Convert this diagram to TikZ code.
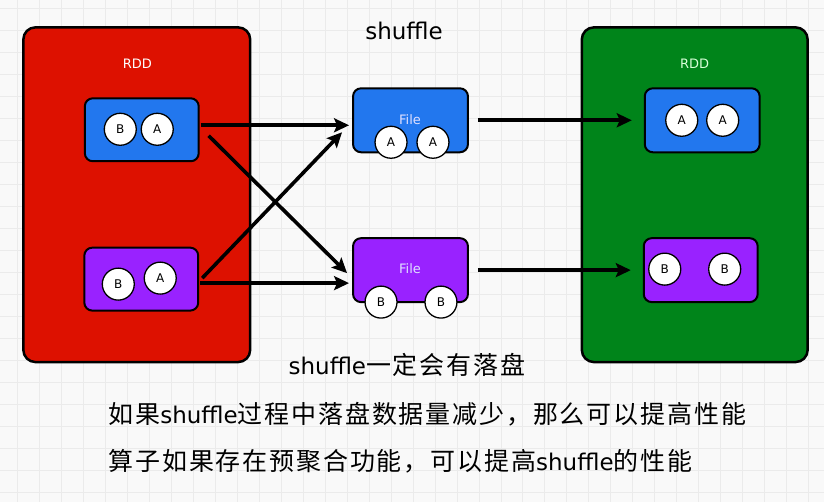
\documentclass[tikz,border=0pt]{standalone}
\usepackage{fontspec}
\setmainfont{DejaVu Sans}
\newfontfamily\cjk[LetterSpace=7.5]{Noto Sans CJK SC}
\usetikzlibrary{arrows.meta}

\definecolor{rddred}{HTML}{DD1100}
\definecolor{rddgreen}{HTML}{00841A}
\definecolor{partblue}{HTML}{2277EE}
\definecolor{partpurple}{HTML}{9922FF}
\definecolor{canvas}{HTML}{F9F9F9}
\definecolor{gridgray}{HTML}{EBEBEB}

\newcommand{\zh}[1]{{\fontsize{25}{30}\cjk #1}}

\begin{document}
\begin{tikzpicture}[
        x=1pt, y=-1pt,
        font=\fontsize{23}{28}\selectfont,
        rddbox/.style={draw=black, line width=2.5pt, rounded corners=12pt, minimum width=227pt, minimum height=335pt, inner sep=0pt},
        part/.style={draw=black, line width=2pt, rounded corners=8pt, minimum width=114pt, minimum height=63pt, inner sep=0pt},
        rec/.style={circle, draw=black, fill=white, line width=1.3pt, minimum size=32pt, inner sep=0pt, font=\fontsize{12}{14}\selectfont},
        tag/.style={text=white, font=\fontsize{13}{15}\selectfont},
        note/.style={anchor=base west, inner sep=0pt},
        link/.style={draw=black, line width=3.6pt, -{Stealth[length=15pt,width=14pt,inset=3pt]}}
    ]
        % background with grid
        \fill[canvas] (0,0) rectangle (824,502);
        \foreach \gx in {17,39,...,823} \draw[gridgray, line width=0.8pt] (\gx,0) -- (\gx,502);
        \foreach \gy in {8,30,...,502} \draw[gridgray, line width=0.8pt] (0,\gy) -- (824,\gy);

        % source RDD
        \node[rddbox, fill=rddred] (src) at (136.5,194.5) {};
        \node[tag] (srctag) at (137,63) {RDD};
        \node[part, fill=partblue] (lb) at (141.5,129.5) {};
        \node[part, fill=partpurple] (lp) at (141,279) {};
        \node[rec] (lb1) at (120,129) {B};
        \node[rec] (lb2) at (157,129) {A};
        \node[rec] (lp1) at (118,284) {B};
        \node[rec] (lp2) at (160,278) {A};

        % shuffle files
        \node[anchor=base] (title) at (404,39) {shuffle};
        \node[part, fill=partblue, minimum width=115pt, minimum height=64pt] (fb) at (410.5,120) {};
        \node[part, fill=partpurple, minimum width=115pt, minimum height=64pt] (fp) at (410.5,270) {};
        \node[tag, text=white!88!blue] (fbtag) at (410,119) {File};
        \node[tag, text=white!88!blue] (fptag) at (410,269) {File};
        \node[rec] (fb1) at (391,142) {A};
        \node[rec] (fb2) at (433,142) {A};
        \node[rec] (fp1) at (381,302) {B};
        \node[rec] (fp2) at (441,302) {B};

        % target RDD
        \node[rddbox, fill=rddgreen, minimum width=226pt] (dst) at (695,194.5) {};
        \node[tag, text=white!85!green] (dsttag) at (695,63) {RDD};
        \node[part, fill=partblue, minimum width=115pt, minimum height=64pt] (rb) at (702.5,120) {};
        \node[part, fill=partpurple, minimum height=64pt] (rp) at (701,270) {};
        \node[rec] (rb1) at (682,120) {A};
        \node[rec] (rb2) at (723,120) {A};
        \node[rec] (rp1) at (665,269) {B};
        \node[rec] (rp2) at (725,269) {B};

        % arrows
        \draw[link] ([xshift=1pt,yshift=4.5pt]lb.east) -- ([xshift=-3pt,yshift=-5pt]fb.west);
        \draw[link] ([xshift=9pt,yshift=-6pt]lb.east) -- ([xshift=-5pt,yshift=-3pt]fp.west);
        \draw[link] ([xshift=3pt,yshift=1pt]lp.east) -- ([xshift=-10pt,yshift=-12pt]fb.west);
        \draw[link] ([xshift=1pt,yshift=-4pt]lp.east) -- ([xshift=-3pt,yshift=-13pt]fp.west);
        \draw[link] ([xshift=9pt]fb.east) -- ([xshift=-12pt]rb.west);
        \draw[link] ([xshift=9pt]fp.east) -- ([xshift=-12pt]rp.west);

        % notes
        \node[anchor=base] (note0) at (407,374) {shuffle\zh{一定会有落盘}};
        \node[note] (note1) at (108,424) {\zh{如果}shuffle\zh{过程中落盘数据量减少，那么可以提高性能}};
        \node[note] (note2) at (108,471) {\zh{算子如果存在预聚合功能，可以提高}shuffle\zh{的性能}};
    \end{tikzpicture}
\end{document}
